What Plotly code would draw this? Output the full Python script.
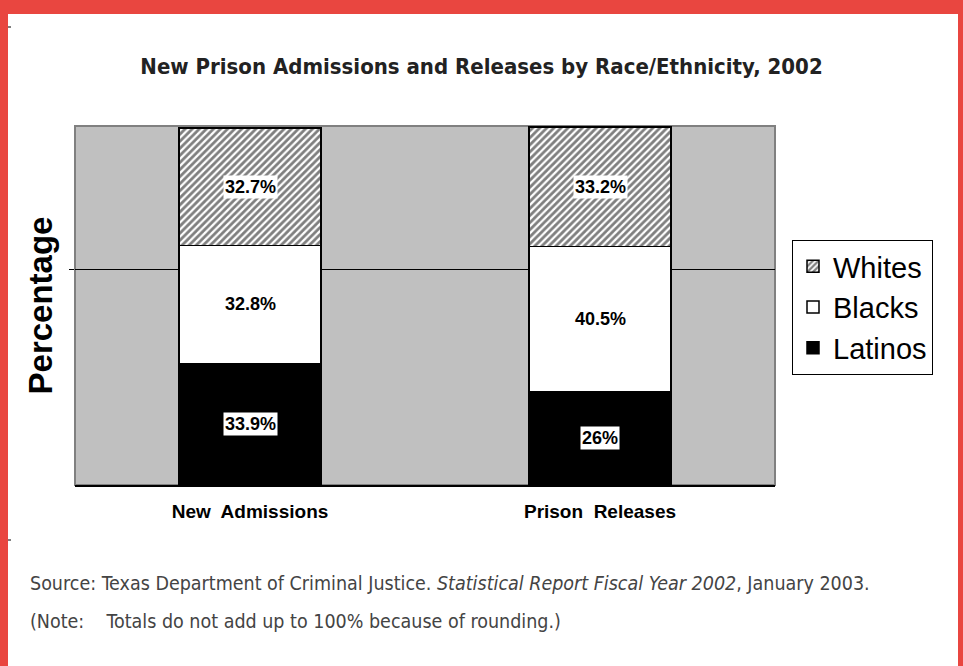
import plotly.graph_objects as go

# Share of new admissions and releases by race/ethnicity (percent)
categories = ["New  Admissions", "Prison  Releases"]
latinos = [33.9, 26.0]
blacks = [32.8, 40.5]
whites = [32.7, 33.2]
label_text = {
    "Latinos": ["33.9%", "26%"],
    "Blacks": ["32.8%", "40.5%"],
    "Whites": ["32.7%", "33.2%"],
}

W, H = 963, 666
L, R, T, B = 75, 775, 126, 485  # plot area in pixels
RED = "#E94640"
NARROW = "Liberation Sans Narrow, DejaVu Sans Condensed"

fig = go.Figure()

fig.add_trace(go.Bar(
    x=categories, y=latinos, name="Latinos",
    marker=dict(color="black", line=dict(color="black", width=1.5)),
))
fig.add_trace(go.Bar(
    x=categories, y=blacks, name="Blacks",
    marker=dict(color="white", line=dict(color="black", width=1.5)),
))
fig.add_trace(go.Bar(
    x=categories, y=whites, name="Whites",
    marker=dict(
        color="white",
        line=dict(color="black", width=1.5),
        pattern=dict(shape="/", fgcolor="black", bgcolor="white", size=5, solidity=0.55),
    ),
))

# value labels with white boxes, centred in each stacked segment
annotations = []
series = [("Latinos", latinos), ("Blacks", blacks), ("Whites", whites)]
base = [0.0] * len(categories)
for name, vals in series:
    for i, v in enumerate(vals):
        annotations.append(dict(
            x=categories[i], y=base[i] + v / 2, xref="x", yref="y",
            text=f"<b>{label_text[name][i]}</b>", showarrow=False,
            font=dict(family="Liberation Sans, Arial", size=18, color="black"),
            bgcolor="white", borderpad=1,
        ))
        base[i] += v


def px_x(p):
    return (p - L) / (R - L)


def px_y(p):
    return (B - p) / (B - T)


annotations.append(dict(
    x=px_x(28), y=px_y(583), xref="paper", yref="paper", xanchor="left", yanchor="middle",
    showarrow=False, align="left",
    text="Source: Texas Department of Criminal Justice. <i>Statistical Report Fiscal Year 2002</i>, January 2003.",
    font=dict(family=NARROW, size=19.5, color="#444444"),
))
annotations.append(dict(
    x=px_x(28), y=px_y(621), xref="paper", yref="paper", xanchor="left", yanchor="middle",
    showarrow=False, align="left",
    text="(Note:&nbsp;&nbsp;&nbsp; Totals do not add up to 100% because of rounding.)",
    font=dict(family=NARROW, size=19.5, color="#444444"),
))

shapes = [
    # plot area frame
    dict(type="rect", xref="paper", yref="paper", x0=0, x1=1, y0=0, y1=1,
         line=dict(color="#808080", width=2), layer="below"),
    # red page border: top, left, right
    dict(type="rect", xref="paper", yref="paper", x0=px_x(0), x1=px_x(W), y0=px_y(0), y1=px_y(14),
         line=dict(width=0), fillcolor=RED),
    dict(type="rect", xref="paper", yref="paper", x0=px_x(0), x1=px_x(8), y0=px_y(0), y1=px_y(H),
         line=dict(width=0), fillcolor=RED),
    dict(type="rect", xref="paper", yref="paper", x0=px_x(958), x1=px_x(W), y0=px_y(0), y1=px_y(H),
         line=dict(width=0), fillcolor=RED),
    # small crop marks
    dict(type="line", xref="paper", yref="paper", x0=px_x(8), x1=px_x(11), y0=px_y(27), y1=px_y(27),
         line=dict(color="black", width=1)),
    dict(type="line", xref="paper", yref="paper", x0=px_x(8), x1=px_x(11), y0=px_y(540), y1=px_y(540),
         line=dict(color="black", width=1)),
]

fig.update_layout(
    width=W, height=H,
    margin=dict(l=L, r=W - R, t=T, b=H - B, pad=0),
    paper_bgcolor="white", plot_bgcolor="#C0C0C0",
    barmode="stack", bargap=0.594,
    title=dict(
        text="<b>New Prison Admissions and Releases by Race/Ethnicity, 2002</b>",
        x=0.5, xanchor="center", xref="container",
        y=1 - 66 / H, yanchor="middle", yref="container",
        font=dict(family=NARROW, size=22, color="#222222"),
    ),
    xaxis=dict(
        showline=True, linecolor="black", linewidth=1.5, ticks="",
        showgrid=False, ticklabelstandoff=8,
        tickfont=dict(family="Liberation Sans, Arial", size=19, color="black"),
        tickprefix="<b>", ticksuffix="</b>",
    ),
    yaxis=dict(
        range=[0, 100], tickvals=[60], showticklabels=False,
        showgrid=True, gridcolor="black", gridwidth=1, zeroline=False,
        ticks="outside", ticklen=5, tickcolor="black",
        title=dict(text="<b>Percentage</b>", standoff=6,
                   font=dict(family="Liberation Sans, Arial", size=33, color="black")),
    ),
    legend=dict(
        x=px_x(792), y=px_y(240), xanchor="left", yanchor="top",
        bgcolor="white", bordercolor="black", borderwidth=1,
        font=dict(family="Liberation Sans, Arial", size=29, color="black"),
        traceorder="reversed", itemwidth=30,
    ),
    annotations=annotations,
    shapes=shapes,
    showlegend=True,
)

fig.write_html("out.html")
